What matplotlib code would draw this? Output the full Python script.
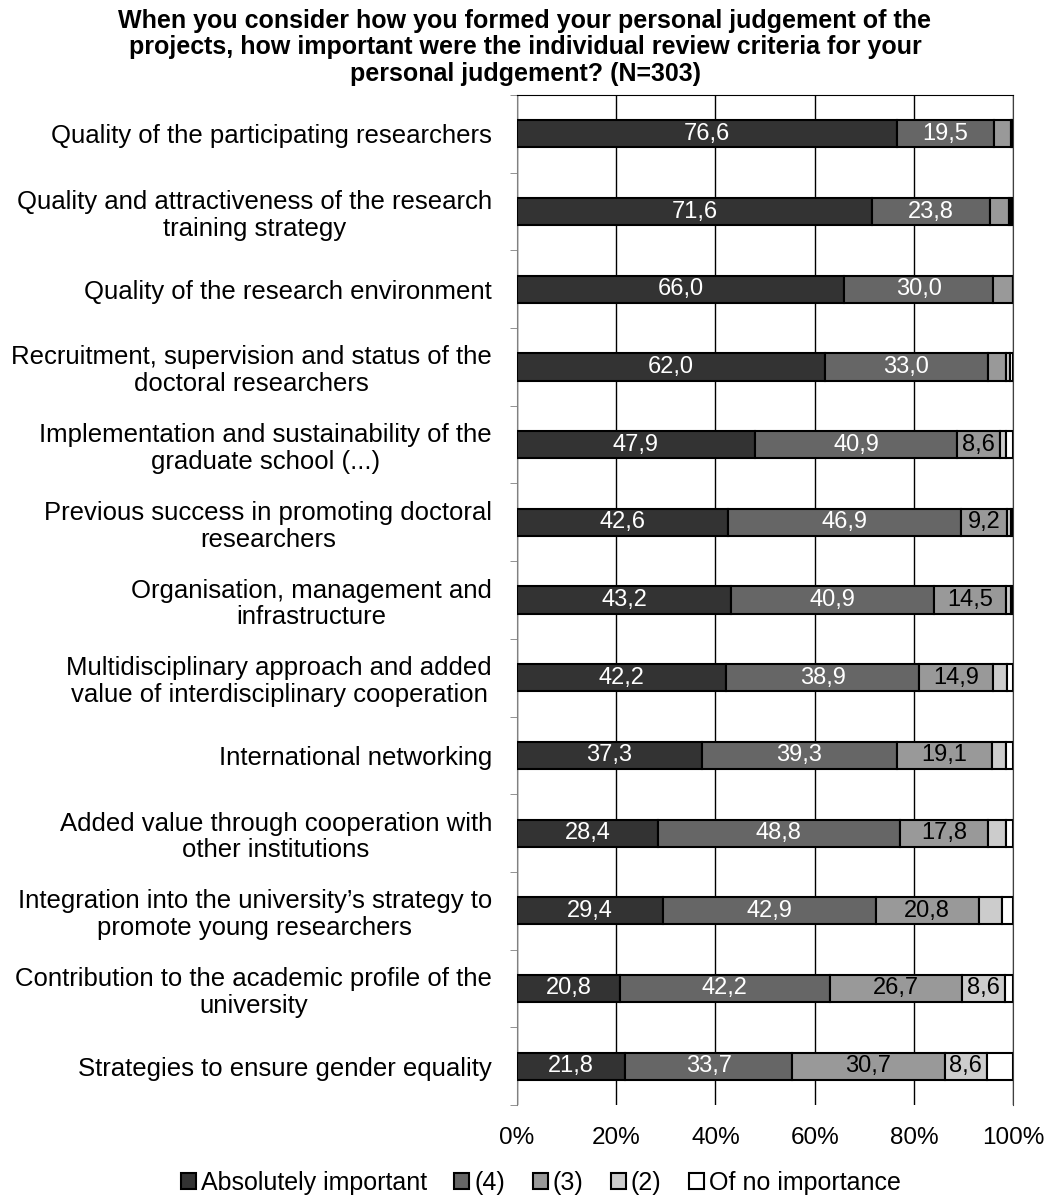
import numpy as np
import matplotlib.pyplot as plt

plt.rcParams['font.family'] = ['Liberation Sans', 'DejaVu Sans']

criteria = [
    'Quality of the participating researchers',
    'Quality and attractiveness of the research\ntraining strategy',
    'Quality of the research environment',
    'Recruitment, supervision and status of the\ndoctoral researchers',
    'Implementation and sustainability of the\ngraduate school (...)',
    'Previous success in promoting doctoral\nresearchers',
    'Organisation, management and\ninfrastructure',
    'Multidisciplinary approach and added\nvalue of interdisciplinary cooperation',
    'International networking',
    'Added value through cooperation with\nother institutions',
    'Integration into the university\u2019s strategy to\npromote young researchers',
    'Contribution to the academic profile of the\nuniversity',
    'Strategies to ensure gender equality',
]

categories = ['Absolutely important', '(4)', '(3)', '(2)', 'Of no importance']

absolutely = [76.6, 71.6, 66.0, 62.0, 47.9, 42.6, 43.2, 42.2, 37.3, 28.4, 29.4, 20.8, 21.8]
four = [19.5, 23.8, 30.0, 33.0, 40.9, 46.9, 40.9, 38.9, 39.3, 48.8, 42.9, 42.2, 33.7]
three = [3.4, 3.8, 4.0, 3.6, 8.6, 9.2, 14.5, 14.9, 19.1, 17.8, 20.8, 26.7, 30.7]
two = [0.3, 0.4, 0.0, 0.8, 1.2, 0.8, 1.0, 2.8, 2.8, 3.6, 4.7, 8.6, 8.6]
none = [0.2, 0.4, 0.0, 0.6, 1.4, 0.5, 0.4, 1.2, 1.5, 1.4, 2.2, 1.7, 5.2]

series = [absolutely, four, three, two, none]
colors = ['#333333', '#666666', '#999999', '#cccccc', '#ffffff']
text_colors = ['white', 'white', 'black', 'black', 'black']

fig = plt.figure(figsize=(10.5, 11.98), dpi=100)
ax = fig.add_axes([0.4924, 0.0776, 0.4724, 0.8431])

y = np.arange(len(criteria))
left = np.zeros(len(criteria))
for vals, col, tc, lab in zip(series, colors, text_colors, categories):
    vals = np.array(vals)
    bars = ax.barh(y, vals, left=left, height=0.35, color=col,
                   edgecolor='black', linewidth=1.5, label=lab, zorder=3)
    for b, v, l in zip(bars, vals, left):
        if v >= 8:
            ax.text(l + v / 2, b.get_y() + b.get_height() / 2,
                    f'{v:.1f}'.replace('.', ','), ha='center', va='center',
                    color=tc, fontsize=17, zorder=4)
    left += vals

ax.set_xlim(0, 100)
ax.set_ylim(len(criteria) - 0.5, -0.5)
ax.set_xticks(np.arange(0, 101, 20))
ax.set_xticklabels([f'{t}%' for t in range(0, 101, 20)], fontsize=17.5)
ax.xaxis.grid(True, color='black', linewidth=1, zorder=0)
ax.tick_params(axis='x', length=0, pad=16)

ax.set_yticks(y)
ax.set_yticklabels(criteria, fontsize=18.5, linespacing=1.15,
                   multialignment='center')
ax.set_yticks(np.arange(-0.5, len(criteria), 1), minor=True)
ax.tick_params(axis='y', which='major', length=0, pad=18)
ax.tick_params(axis='y', which='minor', length=5, color='#808080')

ax.spines['left'].set_color('#808080')
ax.spines['bottom'].set_visible(False)
ax.spines['top'].set_color('black')
ax.spines['right'].set_color('#404040')

fig.text(0.5, 1 - 9 / 1198,
         'When you consider how you formed your personal judgement of the\n'
         'projects, how important were the individual review criteria for your\n'
         'personal judgement? (N=303)',
         fontsize=18, fontweight='bold', ha='center', va='top', linespacing=1.13)

fig.legend(loc='center', bbox_to_anchor=(0.515, 1 - 1183 / 1198), ncol=5,
           frameon=False, fontsize=18, handlelength=0.6, handleheight=0.6,
           handletextpad=0.2, columnspacing=1.1, borderpad=0)

fig.savefig('out.png', dpi=100)
